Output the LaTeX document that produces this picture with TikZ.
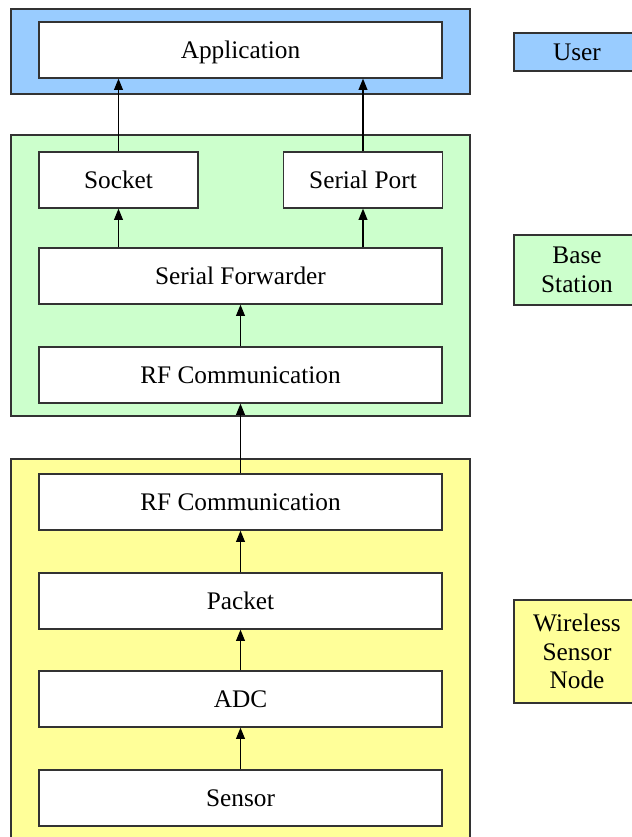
\documentclass[tikz,border=0pt]{standalone}
\usepackage{fontspec}
\setmainfont{Liberation Serif}
\newfontfamily\boxfont{Liberation Serif}
\usetikzlibrary{arrows.meta, positioning}
\definecolor{userblue}{HTML}{99CCFF}
\definecolor{basegreen}{HTML}{CCFFCC}
\definecolor{nodeyellow}{HTML}{FFFF99}

\begin{document}
\begin{tikzpicture}[x=0.025cm, y=-0.025cm,
  every node/.style={font=\boxfont\fontsize{18}{20.5}\selectfont},
  layer/.style={draw=black!80, line width=0.9pt, fill=white, minimum height=1.4cm, inner sep=0pt, text height=12pt, text depth=0pt},
  wide/.style={layer, minimum width=10.075cm},
  half/.style={layer, minimum width=3.975cm},
  tag/.style={draw=black!80, line width=0.9pt, minimum width=3.15cm, inner sep=0pt, align=center},
  group/.style={draw=black!80, line width=0.9pt},
  up/.style={-{Triangle[length=2.8mm,width=2.2mm]}, line width=0.8pt}]
  \useasboundingbox (0,0) rectangle (632,837);

  % User layer
  \draw[group, fill=userblue] (11,9) rectangle (470,94);
  \node[wide] (app) at (240.5,50) {Application};
  \node[tag, fill=userblue, minimum height=0.95cm] (user) at (577,52) {User};

  % Base station layer
  \draw[group, fill=basegreen] (11,135) rectangle (470,416);
  \node[half] (socket) at (118.5,180) {Socket};
  \node[half] (serial) at (363,180) {Serial Port};
  \node[wide] (fwd) at (240.5,276) {Serial Forwarder};
  \node[wide] (rfbase) at (240.5,375) {RF Communication};
  \node[tag, fill=basegreen, minimum height=1.75cm] (base) at (577,270) {Base\\Station};

  % Wireless sensor node layer
  \draw[group, fill=nodeyellow] (11,459) rectangle (470,860);
  \node[wide] (rfnode) at (240.5,502) {RF Communication};
  \node[wide] (packet) at (240.5,601) {Packet};
  \node[wide] (adc) at (240.5,699) {ADC};
  \node[wide] (sensor) at (240.5,798) {Sensor};
  \node[tag, fill=nodeyellow, minimum height=2.575cm] (wsn) at (577,651.5) {Wireless\\Sensor\\Node};

  % Data flow upwards
  \draw[up] (sensor) -- (adc);
  \draw[up] (adc) -- (packet);
  \draw[up] (packet) -- (rfnode);
  \draw[up] (rfnode) -- (rfbase);
  \draw[up] (rfbase) -- (fwd);
  \draw[up] (fwd.north -| socket) -- (socket);
  \draw[up] (fwd.north -| serial) -- (serial);
  \draw[up] (socket) -- (socket |- app.south);
  \draw[up] (serial) -- (serial |- app.south);
\end{tikzpicture}
\end{document}
